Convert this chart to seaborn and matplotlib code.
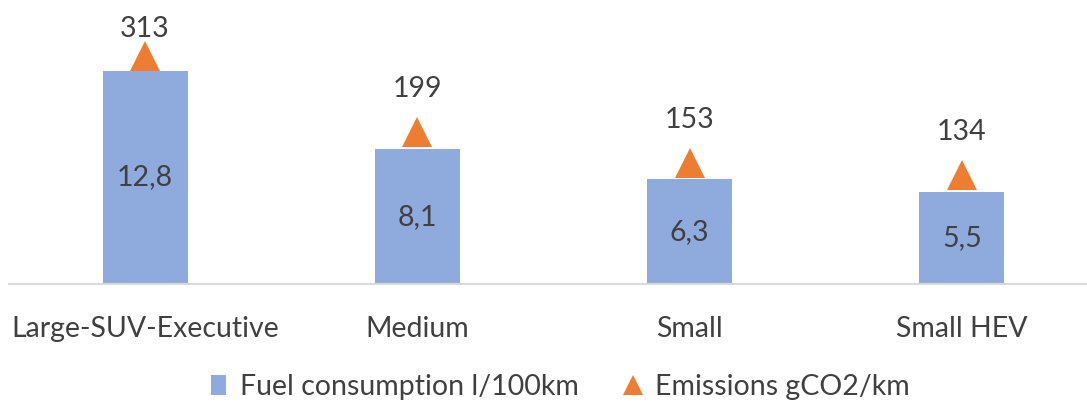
import matplotlib
matplotlib.use("Agg")
import matplotlib.pyplot as plt
import seaborn as sns
import pandas as pd
from matplotlib.patches import Patch
from matplotlib.lines import Line2D

categories = ["Large-SUV-Executive", "Medium", "Small", "Small HEV"]
fuel = [12.8, 8.1, 6.3, 5.5]
emissions = [313, 199, 153, 134]
fuel_labels = ["12,8", "8,1", "6,3", "5,5"]
series_names = ["Fuel consumption l/100km", "Emissions gCO2/km"]

BLUE = "#8FAADC"
ORANGE = "#ED7D31"
TXT = "#404040"
FS = 20.5

sns.set_theme(style="white")
plt.rcParams["font.family"] = ["Lato", "DejaVu Sans"]

W, H = 1087, 413
fig = plt.figure(figsize=(W / 100, H / 100), dpi=100)
# axes: left 9px, baseline at y=284, top at y=51
ax = fig.add_axes([9 / W, (H - 284) / H, (W - 9) / W, (284 - 51) / H])

df = pd.DataFrame({"cat": categories, "fuel": fuel, "em": emissions})
sns.barplot(data=df, x="cat", y="fuel", color=BLUE, width=0.312, ax=ax,
            saturation=1, edgecolor="none")
ax.set_ylim(0, 14)
ax.set_xlim(-0.5, 3.46)
for i, (v, lab) in enumerate(zip(fuel, fuel_labels)):
    ax.text(i, v / 2, lab, ha="center", va="center", fontsize=FS, color=TXT)

ax2 = ax.twinx()
sns.pointplot(data=df, x="cat", y="em", ax=ax2, color=ORANGE, markers="^",
              linestyle="none", markersize=22, markeredgewidth=0)
for art in list(ax2.lines) + list(ax2.collections):
    art.set_clip_on(False)
ax2.set_ylim(-29, 321)
ax2.set_xlim(-0.5, 3.46)
for i, v in enumerate(emissions):
    off = 27 if v > 300 else 43
    ax2.annotate(str(v), (i, v), xytext=(0, off * 0.72), textcoords="offset points",
                 ha="center", va="center", fontsize=FS, color=TXT)

for a in (ax, ax2):
    for s in ["top", "right", "left"]:
        a.spines[s].set_visible(False)
    a.set_yticks([])
    a.set_ylabel("")
    a.set_xlabel("")
ax2.spines["bottom"].set_visible(False)
ax.spines["bottom"].set_color("#D9D9D9")
ax.spines["bottom"].set_linewidth(1.5)
ax.tick_params(axis="x", length=0, pad=23, labelsize=FS, labelcolor=TXT)
ax2.tick_params(axis="x", length=0, labelbottom=False)

handles = [Patch(facecolor=BLUE, edgecolor="none"),
           Line2D([], [], marker="^", color=ORANGE, linestyle="none", markersize=15, markeredgewidth=0)]
leg = fig.legend(handles, series_names, loc="center", bbox_to_anchor=(560 / W, (H - 387) / H),
                 ncol=2, frameon=False, fontsize=FS, handlelength=0.55, handletextpad=0.5,
                 columnspacing=1.6, labelcolor=TXT)

fig.savefig("out.png", dpi=100)
